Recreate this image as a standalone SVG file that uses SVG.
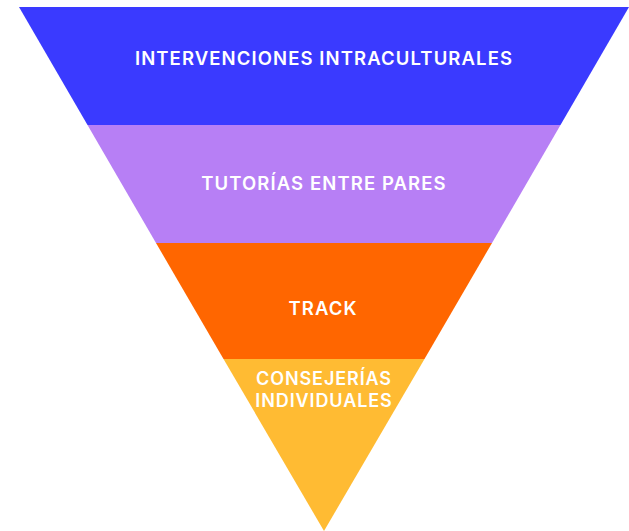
<svg xmlns="http://www.w3.org/2000/svg" width="629" height="531" viewBox="0 0 629 531">
  <style>
    .lbl { font-family: Inter, "Noto Sans", "Liberation Sans", sans-serif; font-size: 18.5px; font-weight: 600; fill: #ffffff; text-anchor: middle; letter-spacing: 1.1px; }
    .sm { font-size: 18px; letter-spacing: 0.9px; }
  </style>
  <rect width="629" height="531" fill="#ffffff"/>
  <g id="level1">
    <polygon points="19,7 629,7 560.5,125 87.5,125" fill="#3A3AFF"/>
    <text class="lbl" x="324" y="65">INTERVENCIONES INTRACULTURALES</text>
  </g>
  <g id="level2">
    <polygon points="87.5,125 560.5,125 492,243 156,243" fill="#B77FF5"/>
    <text class="lbl" x="324" y="190">TUTORÍAS ENTRE PARES</text>
  </g>
  <g id="level3">
    <polygon points="156,243 492,243 424.5,359 223.5,359" fill="#FF6600"/>
    <text class="lbl" x="323" y="315">TRACK</text>
  </g>
  <g id="level4">
    <polygon points="223.5,359 424.5,359 324,531" fill="#FFBB33"/>
    <text class="lbl sm" x="324" y="385">CONSEJERÍAS</text>
    <text class="lbl sm" x="324" y="407">INDIVIDUALES</text>
  </g>
  <g id="connectors"/>
</svg>
